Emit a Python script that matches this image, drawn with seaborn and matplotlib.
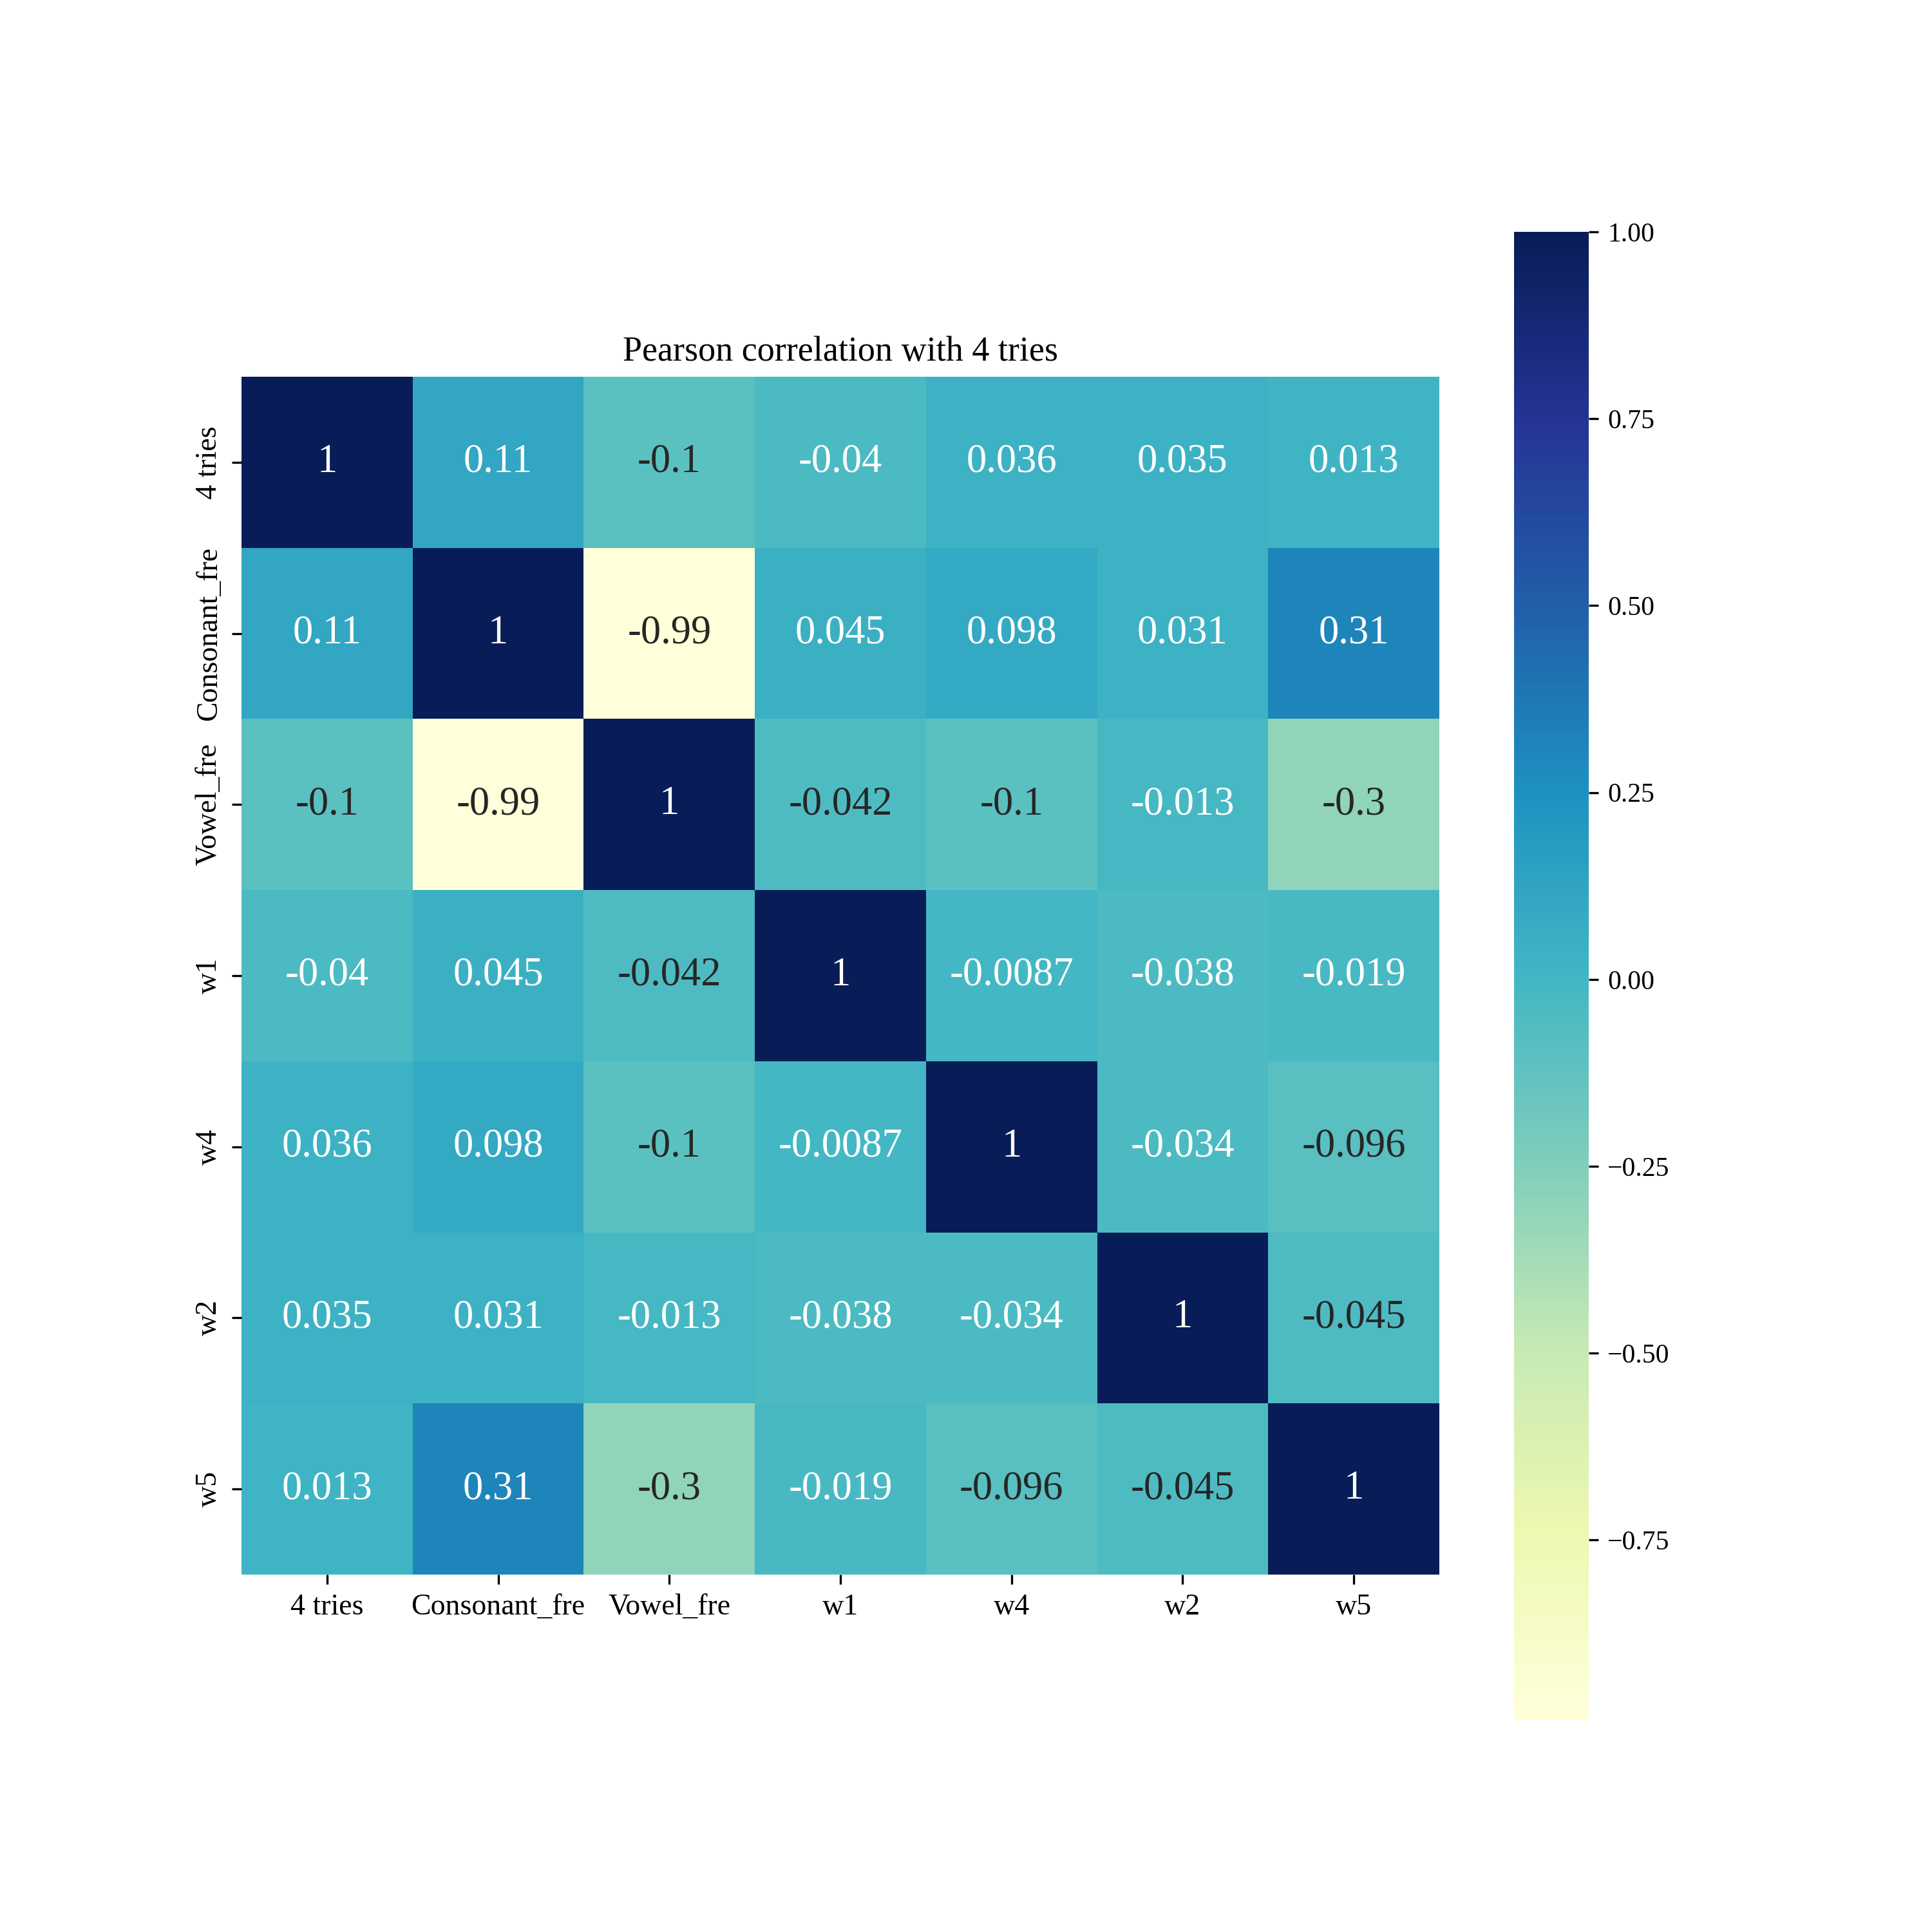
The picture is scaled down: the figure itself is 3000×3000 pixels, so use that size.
import numpy as np
import pandas as pd
import matplotlib
matplotlib.use("Agg")
import matplotlib.pyplot as plt
import seaborn as sns

labels = ["4 tries", "Consonant_fre", "Vowel_fre", "w1", "w4", "w2", "w5"]

row_4tries = [1, 0.11, -0.1, -0.04, 0.036, 0.035, 0.013]
row_cons = [0.11, 1, -0.99, 0.045, 0.098, 0.031, 0.31]
row_vowel = [-0.1, -0.99, 1, -0.042, -0.1, -0.013, -0.3]
row_w1 = [-0.04, 0.045, -0.042, 1, -0.0087, -0.038, -0.019]
row_w4 = [0.036, 0.098, -0.1, -0.0087, 1, -0.034, -0.096]
row_w2 = [0.035, 0.031, -0.013, -0.038, -0.034, 1, -0.045]
row_w5 = [0.013, 0.31, -0.3, -0.019, -0.096, -0.045, 1]

corr = pd.DataFrame([row_4tries, row_cons, row_vowel, row_w1, row_w4, row_w2, row_w5],
                    index=labels, columns=labels)

plt.rcParams['font.family'] = ['Liberation Serif', 'DejaVu Serif']

fig = plt.figure(figsize=(10, 10))
ax = sns.heatmap(corr, annot=True, cmap="YlGnBu", square=True, annot_kws={"size": 15})
ax.set_title("Pearson correlation with 4 tries", fontsize=13)
ax.tick_params(labelsize=11)
ax.collections[0].colorbar.ax.tick_params(labelsize=10)
plt.savefig("out.png", dpi=300)
